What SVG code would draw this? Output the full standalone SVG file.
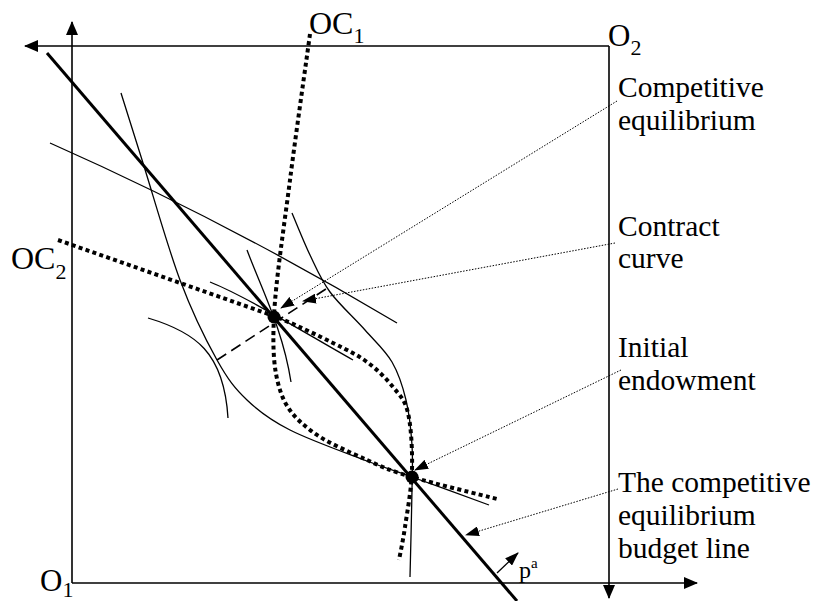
<svg xmlns="http://www.w3.org/2000/svg" width="817" height="601" viewBox="0 0 817 601">
<defs>
<marker id="ax" markerUnits="userSpaceOnUse" markerWidth="14" markerHeight="12" refX="13" refY="6" orient="auto"><path d="M0,0 L14,6 L0,12 Z" fill="#000"/></marker>
<marker id="ld" markerUnits="userSpaceOnUse" markerWidth="14" markerHeight="10" refX="13" refY="5" orient="auto"><path d="M0,0 L14,5 L0,10 Z" fill="#000"/></marker>
</defs>
<style>
.axis{fill:none;stroke:#000;stroke-width:1.6}
.budget{fill:none;stroke:#000;stroke-width:3}
.ic{fill:none;stroke:#000;stroke-width:1.3}
.oc{fill:none;stroke:#000;stroke-width:4;stroke-dasharray:4 3.3}
.dash{fill:none;stroke:#000;stroke-width:1.6;stroke-dasharray:11 6}
.lead{fill:none;stroke:#000;stroke-width:1;stroke-dasharray:1.5 1.5}
text{font-family:"Liberation Serif","Times New Roman",serif;fill:#000}
.lbl{font-size:29.5px}
.big{font-size:31px}
.oct{font-size:32px}
.sub{font-size:22px}
</style>
<g id="axes">
<path class="axis" d="M72,583 H697" marker-end="url(#ax)"/>
<path class="axis" d="M72,583 V22" marker-end="url(#ax)"/>
<path class="axis" d="M609,46 H25" marker-end="url(#ax)"/>
<path class="axis" d="M609,46 V598" marker-end="url(#ax)"/>
</g>
<g id="budget-line">
<path class="budget" d="M47,53 L517,601"/>
</g>
<g id="indifference-curves">
<path class="ic" d="M121,93 C124.7,104.7 133.2,131.8 143,163 C152.8,194.2 167.7,247.2 180,280 C192.3,312.8 205.8,340 217,360 C228.2,380 234.8,388.3 247,400 C259.2,411.7 270,419.8 290,430 C310,440.2 346.7,453.2 367,461 C387.3,468.8 391.7,469.7 412,477 C432.3,484.3 476.2,500.3 489,505"/>
<path class="ic" d="M50,143 Q226,221 397,323"/>
<path class="ic" d="M292,213 C295,220 303.7,241.8 310,255 C316.3,268.2 320.8,279.5 330,292 C339.2,304.5 354.7,318.3 365,330 C375.3,341.7 385.2,350.3 392,362 C398.8,373.7 402.7,386.2 406,400 C409.3,413.8 411,430 412,445 C413,460 412.3,468 412,490 C411.7,512 410.3,562.5 410,577"/>
<path class="ic" d="M148,318 C195,332 224,352 228,418"/>
<path class="ic" d="M247,250 C262,290 283,330 291,382"/>
<path class="ic" d="M210,282 C245,296 300,330 353,360"/>
</g>
<g id="offer-curves">
<path class="oc" d="M310,34 C306.7,58.3 296,133 290,180 C284,227 275.7,281 274,316 C272.3,351 274,371 280,390 C286,409 295.5,418.3 310,430 C324.5,441.7 350,452.2 367,460 C384,467.8 390.3,470.5 412,477 C433.7,483.5 482.8,495.3 497,499"/>
<path class="oc" d="M58,240 L274,316 C296.2,324.8 317.5,335.3 333,343 C348.5,350.7 357,354.7 367,362 C377,369.3 386.2,378.5 393,387 C399.8,395.5 404.8,399.2 408,413 C411.2,426.8 412.5,451 412,470 C411.5,489 407.2,512 405,527 C402.8,542 400,554.5 399,560"/>
</g>
<g id="dashed-line">
<path class="dash" d="M217,360 L329,287"/>
</g>
<g id="competitive-equilibrium-point"><circle cx="274" cy="317" r="6.5"/></g>
<g id="endowment-point"><circle cx="412" cy="477" r="6.5"/></g>
<g id="connectors">
<path class="lead" d="M617,101 L281,308" marker-end="url(#ld)"/>
<path class="lead" d="M615,243 L303,301" marker-end="url(#ld)"/>
<path class="lead" d="M621,370 L415,470" marker-end="url(#ld)"/>
<path class="lead" d="M618,489 L466,535" marker-end="url(#ld)"/>
<path fill="none" stroke="#000" stroke-width="1.3" d="M497,573 L518,553" marker-end="url(#ld)"/>
</g>
<g id="axis-labels">
<text class="big" x="40" y="591">O<tspan class="sub" dy="6">1</tspan></text>
<text class="big" x="608" y="46">O<tspan class="sub" dy="9">2</tspan></text>
<text class="oct" x="309" y="34">OC<tspan class="sub" dy="9">1</tspan></text>
<text class="oct" x="11" y="269">OC<tspan class="sub" dy="10">2</tspan></text>
<text x="519" y="578" style="font-size:24px">p<tspan style="font-size:15px" dy="-10">a</tspan></text>
</g>
<g id="label-competitive-equilibrium">
<text class="lbl" x="618" y="97">Competitive</text>
<text class="lbl" x="618" y="130">equilibrium</text>
</g>
<g id="label-contract-curve">
<text class="lbl" x="618" y="236">Contract</text>
<text class="lbl" x="618" y="268">curve</text>
</g>
<g id="label-initial-endowment">
<text class="lbl" x="618" y="357">Initial</text>
<text class="lbl" x="618" y="390">endowment</text>
</g>
<g id="label-budget-line">
<text class="lbl" x="618" y="492">The competitive</text>
<text class="lbl" x="618" y="525">equilibrium</text>
<text class="lbl" x="618" y="558">budget line</text>
</g>
</svg>
